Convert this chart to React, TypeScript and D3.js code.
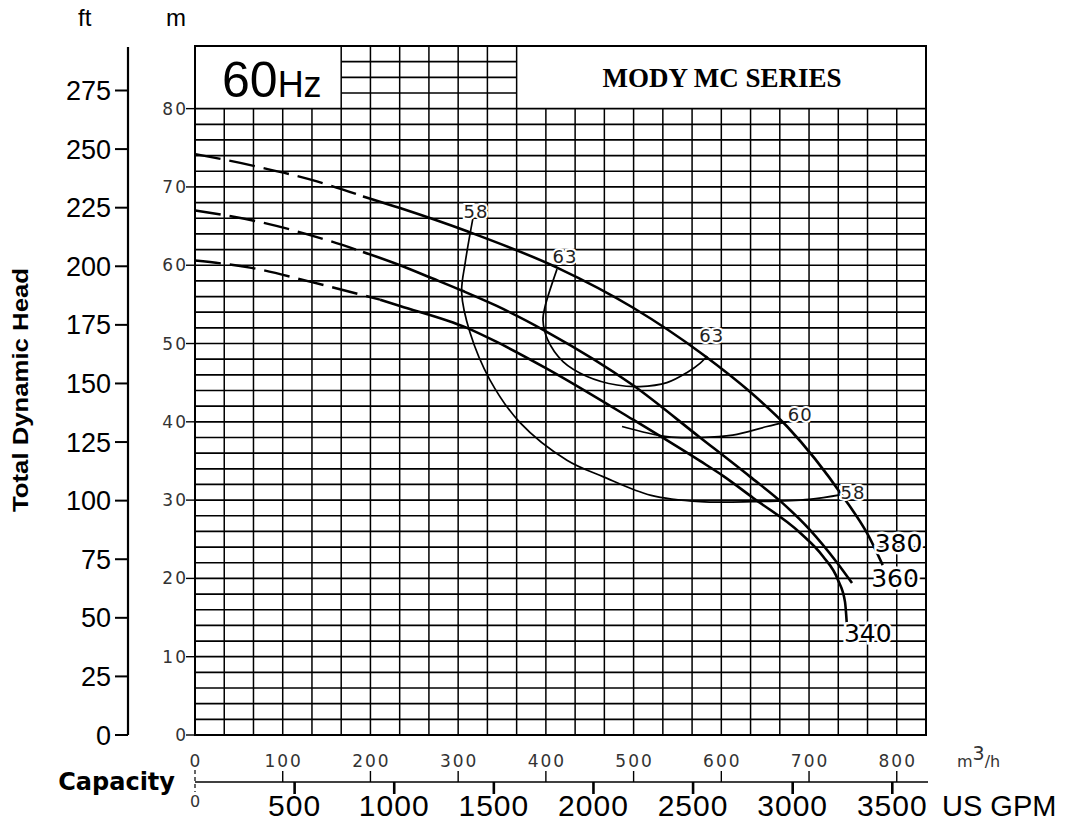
import React, { useEffect, useRef } from "react"
import * as d3 from "d3"

// axis ticks
const capacityTicks = [0, 100, 200, 300, 400, 500, 600, 700, 800]
const gpmTicks = [500, 1000, 1500, 2000, 2500, 3000, 3500]
const meterTicks = [0, 10, 20, 30, 40, 50, 60, 70, 80]
const feetTicks = [0, 25, 50, 75, 100, 125, 150, 175, 200, 225, 250, 275]

// head curves [m3/h, m]
const head380 = [[0, 74.2], [70.7, 72.6], [139, 70.7], [191.5, 68.8], [233.7, 67.3], [311, 64.3], [412.7, 59.7], [499, 54.6], [579, 48.6], [633, 43.8], [675, 39.4], [739, 30.4], [766, 25.8], [784, 21.7]]
const head360 = [[0, 67], [70.7, 65.6], [139, 63.6], [191.5, 61.7], [233.7, 60.0], [271, 58.3], [305.5, 56.7], [344, 54.8], [401, 51.5], [499, 44.7], [575.7, 38.0], [632.7, 33.0], [667, 29.9], [701, 26.2], [732, 22.0], [749, 19.4]]
const head340 = [[0, 60.6], [62.7, 59.7], [131, 57.9], [211, 55.6], [233.7, 54.8], [310, 52.0], [344, 50.2], [401, 46.8], [499, 40.3], [575.7, 35.0], [602, 33.1], [636, 30.3], [690, 25.8], [716, 22.8], [733, 19.8], [741, 17.0], [743, 14.3]]
const impellers = ["380", "360", "340"]
const solidFrom = [191.5, 191.5, 211]
const impellerLabels = [[802, 24.5], [798, 20.1], [767, 13.0]]

// efficiency curves
const eff58 = [[317, 66.1], [308, 60.3], [304, 56.5], [313.5, 51.4], [336, 45.4], [370.5, 39.9], [424, 35.1], [465, 33.0], [520, 30.6], [576, 29.8], [636, 29.8], [700, 30.1], [737, 30.7]]
const eff63 = [[412.7, 59.5], [399, 54.7], [396.7, 53.0], [402, 50.5], [419.5, 47.7], [447, 45.8], [481, 44.7], [507, 44.5], [538, 45.0], [561, 46.3], [576, 47.5], [584, 48.4]]
const eff60 = [[486.8, 39.4], [538, 38.1], [575.7, 38.0], [613, 38.3], [652, 39.4], [675, 40.0]]
const effLabels = ["58", "63", "63", "60", "58"]
const effLabelPos = [[320.3, 66.8], [421.8, 61.0], [589, 50.9], [690, 40.9], [750, 30.9]]

const W = 1071, H = 821
const QMAX = 2500 / 3

function App() {
  const ref = useRef(null)

  useEffect(() => {
    const svg = d3.select(ref.current)
    svg.selectAll("*").remove()

    const x = d3.scaleLinear().domain([0, QMAX]).range([195, 926])
    const xGpm = d3.scaleLinear().domain([0, QMAX * 4.403]).range([195, 926])
    const y = d3.scaleLinear().domain([0, 88]).range([735, 46])
    const yFt = d3.scaleLinear().domain([0, 275]).range([735, 90.5])
    const small = "DejaVu Sans"
    const sans = "Liberation Sans, Arial, sans-serif"

    svg.append("rect").attr("width", W).attr("height", H).attr("fill", "white")

    // grid
    const grid = svg.append("g").attr("stroke", "#000")
    grid.selectAll(".h").data(d3.range(0, 81, 2)).join("line").attr("class", "h")
      .attr("x1", x(0)).attr("x2", x(QMAX)).attr("y1", d => y(d)).attr("y2", d => y(d)).attr("stroke-width", 1.7)
    grid.selectAll(".hh").data([82, 84, 86]).join("line").attr("class", "hh")
      .attr("x1", x(500 / 3)).attr("x2", x(1100 / 3)).attr("y1", d => y(d)).attr("y2", d => y(d)).attr("stroke-width", 1.7)
    grid.selectAll(".v").data(d3.range(0, 26)).join("line").attr("class", "v")
      .attr("x1", d => x(d * 100 / 3)).attr("x2", d => x(d * 100 / 3))
      .attr("y1", y(0)).attr("y2", d => (d >= 5 && d <= 11) ? y(88) : y(80)).attr("stroke-width", 1.5)
    grid.append("rect").attr("x", x(0)).attr("y", y(88)).attr("width", x(QMAX) - x(0)).attr("height", y(0) - y(88))
      .attr("fill", "none").attr("stroke-width", 2)

    // header boxes
    svg.append("text").attr("x", 222).attr("y", 97).attr("font-family", sans).attr("font-size", 50)
      .text("60").append("tspan").attr("font-size", 36).text("Hz")
    svg.append("text").attr("x", 722).attr("y", 87).attr("text-anchor", "middle")
      .attr("font-family", "Liberation Serif, Times New Roman, serif").attr("font-weight", "bold").attr("font-size", 27)
      .text("MODY MC SERIES")

    // metre axis
    svg.selectAll(".mt").data(meterTicks).join("line").attr("class", "mt")
      .attr("x1", 186).attr("x2", x(0)).attr("y1", d => y(d)).attr("y2", d => y(d)).attr("stroke", "#000").attr("stroke-width", 1.4)
    svg.selectAll(".ml").data(meterTicks).join("text").attr("class", "ml")
      .attr("x", 188).attr("y", d => y(d) + 6).attr("text-anchor", "end")
      .attr("font-family", small).attr("font-size", 17).attr("letter-spacing", 2).attr("fill", "#333").text(d => d)

    // feet axis
    svg.append("line").attr("x1", 128).attr("x2", 128).attr("y1", 47).attr("y2", yFt(0)).attr("stroke", "#000").attr("stroke-width", 2.2)
    svg.selectAll(".ft").data(feetTicks).join("line").attr("class", "ft")
      .attr("x1", 115).attr("x2", 128).attr("y1", d => yFt(d)).attr("y2", d => yFt(d)).attr("stroke", "#000").attr("stroke-width", 2)
    svg.selectAll(".fl").data(feetTicks).join("text").attr("class", "fl")
      .attr("x", 111).attr("y", d => yFt(d) + 9.5).attr("text-anchor", "end")
      .attr("font-family", sans).attr("font-size", 27).text(d => d)
    svg.append("text").attr("x", 78).attr("y", 26).attr("font-family", sans).attr("font-size", 24).text("ft")
    svg.append("text").attr("x", 166).attr("y", 26).attr("font-family", sans).attr("font-size", 24).text("m")
    svg.append("text").attr("transform", "translate(28,390) rotate(-90)").attr("text-anchor", "middle")
      .attr("font-family", sans).attr("font-weight", "bold").attr("font-size", 22)
      .attr("textLength", 244).attr("lengthAdjust", "spacingAndGlyphs").text("Total Dynamic Head")

    // capacity axes
    svg.append("line").attr("x1", x(0)).attr("x2", 928).attr("y1", 782).attr("y2", 782).attr("stroke", "#000").attr("stroke-width", 1.4)
    svg.selectAll(".ct").data(capacityTicks.slice(1)).join("line").attr("class", "ct")
      .attr("x1", d => x(d)).attr("x2", d => x(d)).attr("y1", 771).attr("y2", 782).attr("stroke", "#000").attr("stroke-width", 1.4)
    svg.append("line").attr("x1", x(0)).attr("x2", x(0)).attr("y1", 770).attr("y2", 792)
      .attr("stroke", "#000").attr("stroke-width", 1.2).attr("stroke-dasharray", "4 3")
    svg.selectAll(".cl").data(capacityTicks).join("text").attr("class", "cl")
      .attr("x", d => x(d) + 1).attr("y", 767).attr("text-anchor", "middle")
      .attr("font-family", small).attr("font-size", 17).attr("letter-spacing", 2).attr("fill", "#333").text(d => d)
    svg.selectAll(".gt").data(gpmTicks).join("line").attr("class", "gt")
      .attr("x1", d => xGpm(d)).attr("x2", d => xGpm(d)).attr("y1", 782).attr("y2", 794).attr("stroke", "#000").attr("stroke-width", 2.6)
    svg.selectAll(".gl").data(gpmTicks).join("text").attr("class", "gl")
      .attr("x", d => xGpm(d)).attr("y", 816).attr("text-anchor", "middle")
      .attr("font-family", sans).attr("font-size", 30).attr("letter-spacing", 1).text(d => d)
    svg.append("text").attr("x", xGpm(0)).attr("y", 807).attr("text-anchor", "middle")
      .attr("font-family", small).attr("font-size", 16).attr("fill", "#333").text("0")
    svg.append("text").attr("x", 942).attr("y", 816).attr("font-family", sans).attr("font-size", 29).text("US GPM")
    const unit = svg.append("text").attr("x", 957).attr("y", 767).attr("font-family", small).attr("font-size", 16).attr("fill", "#333")
    unit.append("tspan").text("m")
    unit.append("tspan").attr("dy", -7).attr("font-size", 19).text("3")
    unit.append("tspan").attr("dy", 7).text("/h")
    svg.append("text").attr("x", 175).attr("y", 790).attr("text-anchor", "end")
      .attr("font-family", small).attr("font-weight", "bold").attr("font-size", 24).text("Capacity")

    // curves
    const headLine = d3.line().x(d => x(d[0])).y(d => y(d[1])).curve(d3.curveMonotoneX)
    const effLine = d3.line().x(d => x(d[0])).y(d => y(d[1])).curve(d3.curveCatmullRom.alpha(0.5))
    const curves = svg.append("g").attr("fill", "none").attr("stroke", "#000")
    ;[head380, head360, head340].forEach((pts, i) => {
      const s = solidFrom[i]
      curves.append("path").attr("d", headLine(pts.filter(p => p[0] <= s))).attr("stroke-width", 2.4).attr("stroke-dasharray", "26 9")
      curves.append("path").attr("d", headLine(pts.filter(p => p[0] >= s))).attr("stroke-width", 2.6)
    })
    ;[eff58, eff63, eff60].forEach(pts => {
      curves.append("path").attr("d", effLine(pts)).attr("stroke-width", 1.7)
    })

    svg.selectAll(".el").data(effLabels).join("text").attr("class", "el")
      .attr("x", (d, i) => x(effLabelPos[i][0])).attr("y", (d, i) => y(effLabelPos[i][1]) + 6).attr("text-anchor", "middle")
      .attr("font-family", small).attr("font-size", 18).attr("letter-spacing", 1)
      .attr("stroke", "white").attr("stroke-width", 4).attr("paint-order", "stroke").attr("fill", "#222").text(d => d)
    svg.selectAll(".il").data(impellers).join("text").attr("class", "il")
      .attr("x", (d, i) => x(impellerLabels[i][0])).attr("y", (d, i) => y(impellerLabels[i][1]) + 9).attr("text-anchor", "middle")
      .attr("font-family", small).attr("font-size", 25)
      .attr("stroke", "white").attr("stroke-width", 5).attr("paint-order", "stroke").text(d => d)
  }, [])

  return (
    <svg ref={ref} width={W} height={H} style={{ position: "absolute", left: 0, top: 0 }}></svg>
  )
}

export default App
